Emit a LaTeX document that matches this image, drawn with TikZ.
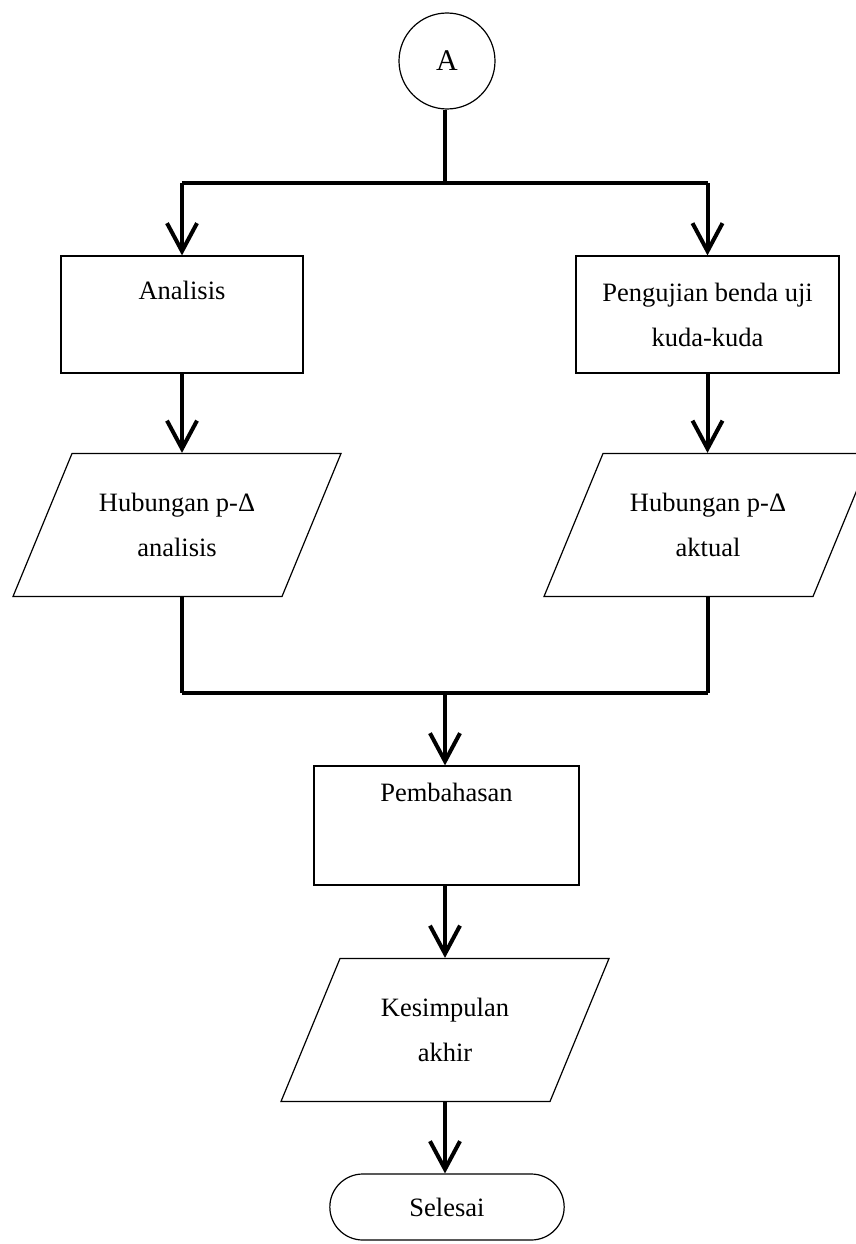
\documentclass[tikz,border=0pt]{standalone}
\usepackage{fontspec}
\setmainfont{Liberation Serif}
\usetikzlibrary{arrows.meta,shapes.geometric,shapes.misc}

\begin{document}
\begin{tikzpicture}[x=1pt, y=-1pt]

% --- gaya umum ---
\tikzset{
  every node/.style={font=\fontsize{26.5}{45}\selectfont, align=center},
  kotak/.style={draw, line width=1.2pt, rectangle},
  data/.style={draw, line width=1.2pt, trapezium, trapezium left angle=50,
    trapezium right angle=130, trapezium stretches body,
    minimum width=328pt, minimum height=143pt},
  garis/.style={line width=4pt},
  panah/.style={line width=4pt, -{Straight Barb[length=28pt, width=30pt]}}
}

% --- batas gambar ---
\useasboundingbox (0,0) rectangle (856,1244);

% --- simpul ---
\node[draw, circle, line width=1.2pt, minimum size=96pt, font=\fontsize{30}{36}\selectfont] (A) at (447,61) {A};
\node[kotak, minimum width=242pt, minimum height=117pt] (analisis) at (182,314.5) {Analisis\\[4pt] \mbox{}};
\node[kotak, minimum width=263pt, minimum height=117pt] (uji) at (707.5,314.5) {Pengujian benda uji\\ kuda-kuda};
\node[data] (hubA) at (177,525) {Hubungan p-Δ\\ analisis};
\node[data] (hubB) at (708,525) {Hubungan p-Δ\\ aktual};
\node[kotak, minimum width=265pt, minimum height=119pt] (bahas) at (446.5,825.5) {Pembahasan\\[22pt] \mbox{}};
\node[data] (simpul) at (445,1030) {Kesimpulan\\ akhir};
\node[draw, rounded rectangle, line width=1.2pt, minimum width=241pt, minimum height=66pt] (selesai) at (447,1207) {Selesai};

% --- titik cabang ---
\coordinate (atas) at (445,183);
\coordinate (atasKiri) at (analisis.north |- atas);
\coordinate (atasKanan) at (uji.north |- atas);
\coordinate (bawah) at (445,693);
\coordinate (bawahKiri) at (analisis.south |- bawah);
\coordinate (bawahKanan) at (uji.south |- bawah);

% --- garis alir ---
\draw[garis] (A.south -| atas) -- (atas);
\draw[garis] (atasKiri) -- (atasKanan);
\draw[panah] (atasKiri) -- (analisis.north);
\draw[panah] (atasKanan) -- (uji.north);
\draw[panah] (analisis.south) -- (analisis.south |- hubA.north);
\draw[panah] (uji.south) -- (uji.south |- hubB.north);
\draw[garis] (analisis.south |- hubA.south) -- (bawahKiri);
\draw[garis] (uji.south |- hubB.south) -- (bawahKanan);
\draw[garis] (bawahKiri) -- (bawahKanan);
\draw[panah] (bawah) -- (bawah |- bahas.north);
\draw[panah] (bahas.south -| bawah) -- (bawah |- simpul.north);
\draw[panah] (simpul.south -| bawah) -- (bawah |- selesai.north);

\end{tikzpicture}
\end{document}
